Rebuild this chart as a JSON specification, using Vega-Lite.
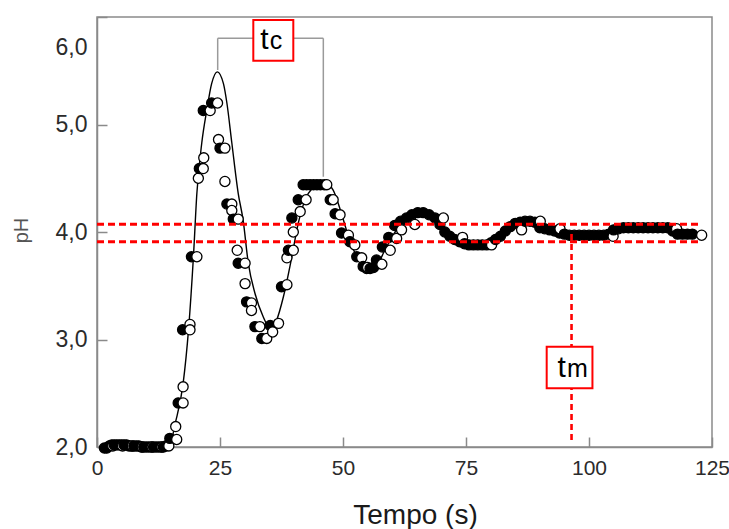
{
  "$schema": "https://vega.github.io/schema/vega-lite/v6.json",
  "width": 615,
  "height": 430,
  "autosize": "none",
  "padding": {"left": 97, "top": 17, "right": 17, "bottom": 82},
  "background": "white",
  "config": {
    "view": {"stroke": "#8a8a8a", "strokeWidth": 1.5},
    "font": "Liberation Sans"
  },
  "datasets": {
    "obs": [
      {"t":1.5,"pH":1.99,"rep":"A"},{"t":2.0,"pH":1.99,"rep":"A"},{"t":2.5,"pH":2.01,"rep":"A"},{"t":3.0,"pH":2.02,"rep":"A"},
      {"t":3.2,"pH":2.01,"rep":"B"},{"t":3.5,"pH":2.02,"rep":"A"},{"t":4.0,"pH":2.02,"rep":"A"},{"t":4.5,"pH":2.02,"rep":"A"},
      {"t":5.0,"pH":2.02,"rep":"A"},{"t":5.2,"pH":2.01,"rep":"B"},{"t":5.5,"pH":2.02,"rep":"A"},{"t":6.0,"pH":2.02,"rep":"A"},
      {"t":6.5,"pH":2.01,"rep":"A"},{"t":7.0,"pH":2.01,"rep":"A"},{"t":7.2,"pH":2.01,"rep":"B"},{"t":7.5,"pH":2.01,"rep":"A"},
      {"t":8.0,"pH":2.01,"rep":"A"},{"t":8.5,"pH":2.01,"rep":"A"},{"t":9.0,"pH":2.0,"rep":"A"},{"t":9.2,"pH":2.0,"rep":"B"},
      {"t":9.5,"pH":2.0,"rep":"A"},{"t":10.0,"pH":2.0,"rep":"A"},{"t":10.5,"pH":2.0,"rep":"A"},{"t":11.0,"pH":2.0,"rep":"A"},
      {"t":11.2,"pH":2.0,"rep":"B"},{"t":11.5,"pH":2.0,"rep":"A"},{"t":12.0,"pH":2.0,"rep":"A"},{"t":12.5,"pH":2.0,"rep":"A"},
      {"t":13.0,"pH":2.0,"rep":"A"},{"t":13.2,"pH":2.0,"rep":"B"},{"t":13.5,"pH":2.0,"rep":"A"},{"t":14.0,"pH":2.01,"rep":"A"},
      {"t":14.6,"pH":2.01,"rep":"B"},{"t":14.8,"pH":2.08,"rep":"A"},{"t":16.0,"pH":2.19,"rep":"B"},{"t":16.2,"pH":2.07,"rep":"B"},
      {"t":16.5,"pH":2.41,"rep":"A"},{"t":17.4,"pH":3.09,"rep":"A"},{"t":17.5,"pH":2.41,"rep":"B"},{"t":17.5,"pH":2.56,"rep":"B"},
      {"t":18.9,"pH":3.14,"rep":"B"},{"t":18.9,"pH":3.09,"rep":"B"},{"t":19.2,"pH":3.77,"rep":"A"},{"t":20.3,"pH":3.77,"rep":"B"},
      {"t":20.6,"pH":4.50,"rep":"B"},{"t":20.8,"pH":4.59,"rep":"A"},{"t":21.6,"pH":4.59,"rep":"B"},{"t":21.6,"pH":5.13,"rep":"A"},
      {"t":21.7,"pH":4.69,"rep":"B"},{"t":23.0,"pH":5.13,"rep":"B"},{"t":23.3,"pH":5.20,"rep":"A"},{"t":24.5,"pH":5.20,"rep":"B"},
      {"t":24.7,"pH":4.86,"rep":"B"},{"t":25.0,"pH":4.78,"rep":"A"},{"t":26.0,"pH":4.78,"rep":"B"},{"t":26.0,"pH":4.47,"rep":"B"},
      {"t":26.4,"pH":4.26,"rep":"A"},{"t":27.4,"pH":4.26,"rep":"B"},{"t":27.4,"pH":4.20,"rep":"B"},{"t":27.7,"pH":4.12,"rep":"A"},
      {"t":28.5,"pH":3.83,"rep":"B"},{"t":28.7,"pH":4.12,"rep":"B"},{"t":28.7,"pH":3.71,"rep":"A"},{"t":30.1,"pH":3.71,"rep":"B"},
      {"t":30.1,"pH":3.52,"rep":"B"},{"t":30.4,"pH":3.35,"rep":"A"},{"t":31.4,"pH":3.34,"rep":"B"},{"t":31.4,"pH":3.27,"rep":"B"},
      {"t":32.1,"pH":3.12,"rep":"A"},{"t":33.1,"pH":3.12,"rep":"B"},{"t":33.5,"pH":3.01,"rep":"A"},{"t":34.5,"pH":3.01,"rep":"B"},
      {"t":35.2,"pH":3.13,"rep":"A"},{"t":35.7,"pH":3.07,"rep":"B"},{"t":36.9,"pH":3.15,"rep":"B"},{"t":37.5,"pH":3.49,"rep":"A"},
      {"t":38.6,"pH":3.51,"rep":"B"},{"t":38.6,"pH":3.76,"rep":"B"},{"t":38.9,"pH":3.83,"rep":"A"},{"t":39.6,"pH":4.13,"rep":"A"},
      {"t":39.9,"pH":3.83,"rep":"B"},{"t":39.9,"pH":4.00,"rep":"B"},{"t":40.9,"pH":4.30,"rep":"A"},{"t":41.3,"pH":4.19,"rep":"B"},
      {"t":41.9,"pH":4.44,"rep":"A"},{"t":42.5,"pH":4.30,"rep":"B"},{"t":42.6,"pH":4.44,"rep":"A"},{"t":43.3,"pH":4.44,"rep":"A"},
      {"t":44.0,"pH":4.44,"rep":"A"},{"t":44.7,"pH":4.44,"rep":"A"},{"t":45.4,"pH":4.44,"rep":"A"},{"t":46.2,"pH":4.44,"rep":"A"},
      {"t":46.7,"pH":4.44,"rep":"B"},{"t":47.4,"pH":4.30,"rep":"A"},{"t":48.0,"pH":4.30,"rep":"B"},{"t":48.4,"pH":4.17,"rep":"A"},
      {"t":49.4,"pH":4.16,"rep":"B"},{"t":49.7,"pH":3.99,"rep":"A"},{"t":51.1,"pH":3.97,"rep":"B"},{"t":51.4,"pH":3.91,"rep":"A"},
      {"t":52.4,"pH":3.88,"rep":"B"},{"t":52.8,"pH":3.77,"rep":"A"},{"t":53.8,"pH":3.76,"rep":"B"},{"t":54.1,"pH":3.68,"rep":"A"},
      {"t":54.8,"pH":3.66,"rep":"A"},{"t":55.0,"pH":3.67,"rep":"B"},{"t":55.5,"pH":3.66,"rep":"A"},{"t":56.2,"pH":3.67,"rep":"A"},
      {"t":56.8,"pH":3.74,"rep":"A"},{"t":57.9,"pH":3.70,"rep":"B"},{"t":58.0,"pH":3.86,"rep":"A"},{"t":59.3,"pH":3.95,"rep":"A"},
      {"t":59.6,"pH":3.83,"rep":"B"},{"t":60.5,"pH":4.06,"rep":"A"},{"t":60.9,"pH":3.94,"rep":"B"},{"t":61.7,"pH":4.10,"rep":"A"},
      {"t":61.9,"pH":4.02,"rep":"B"},{"t":62.9,"pH":4.13,"rep":"A"},{"t":64.0,"pH":4.16,"rep":"A"},{"t":64.6,"pH":4.07,"rep":"B"},
      {"t":65.2,"pH":4.18,"rep":"A"},{"t":66.3,"pH":4.18,"rep":"A"},{"t":67.5,"pH":4.16,"rep":"A"},{"t":68.7,"pH":4.13,"rep":"A"},
      {"t":69.7,"pH":4.07,"rep":"A"},{"t":70.4,"pH":4.13,"rep":"B"},{"t":70.7,"pH":4.00,"rep":"A"},{"t":71.7,"pH":3.96,"rep":"A"},
      {"t":72.7,"pH":3.93,"rep":"A"},{"t":73.7,"pH":3.91,"rep":"A"},{"t":74.3,"pH":3.95,"rep":"B"},{"t":74.7,"pH":3.89,"rep":"A"},
      {"t":75.6,"pH":3.88,"rep":"A"},{"t":76.5,"pH":3.88,"rep":"A"},{"t":77.4,"pH":3.88,"rep":"A"},{"t":78.3,"pH":3.88,"rep":"A"},
      {"t":79.2,"pH":3.88,"rep":"A"},{"t":80.1,"pH":3.90,"rep":"A"},{"t":80.2,"pH":3.88,"rep":"B"},{"t":81.0,"pH":3.93,"rep":"A"},
      {"t":82.0,"pH":3.96,"rep":"A"},{"t":83.0,"pH":4.01,"rep":"A"},{"t":84.0,"pH":4.05,"rep":"A"},{"t":85.0,"pH":4.08,"rep":"A"},
      {"t":86.0,"pH":4.09,"rep":"A"},{"t":86.3,"pH":4.02,"rep":"B"},{"t":87.0,"pH":4.10,"rep":"A"},{"t":88.0,"pH":4.10,"rep":"A"},
      {"t":89.0,"pH":4.09,"rep":"A"},{"t":90.0,"pH":4.04,"rep":"A"},{"t":90.1,"pH":4.10,"rep":"B"},{"t":91.0,"pH":4.03,"rep":"A"},
      {"t":92.0,"pH":4.02,"rep":"A"},{"t":93.0,"pH":4.01,"rep":"A"},{"t":94.0,"pH":3.99,"rep":"A"},{"t":94.1,"pH":4.03,"rep":"B"},
      {"t":95.0,"pH":3.98,"rep":"A"},{"t":96.0,"pH":3.97,"rep":"A"},{"t":97.0,"pH":3.97,"rep":"A"},{"t":98.0,"pH":3.97,"rep":"A"},
      {"t":99.0,"pH":3.97,"rep":"A"},{"t":100.0,"pH":3.97,"rep":"A"},{"t":101.0,"pH":3.97,"rep":"A"},{"t":102.0,"pH":3.97,"rep":"A"},
      {"t":103.0,"pH":3.97,"rep":"A"},{"t":104.0,"pH":3.98,"rep":"A"},{"t":104.9,"pH":3.96,"rep":"B"},{"t":105.0,"pH":4.02,"rep":"A"},
      {"t":106.0,"pH":4.03,"rep":"A"},{"t":107.0,"pH":4.04,"rep":"A"},{"t":108.0,"pH":4.04,"rep":"A"},{"t":109.0,"pH":4.04,"rep":"A"},
      {"t":110.0,"pH":4.04,"rep":"A"},{"t":111.0,"pH":4.04,"rep":"A"},{"t":112.0,"pH":4.04,"rep":"A"},{"t":113.0,"pH":4.04,"rep":"A"},
      {"t":114.0,"pH":4.04,"rep":"A"},{"t":115.0,"pH":4.04,"rep":"A"},{"t":116.0,"pH":4.04,"rep":"A"},{"t":117.0,"pH":4.01,"rep":"A"},
      {"t":117.8,"pH":4.03,"rep":"B"},{"t":118.0,"pH":3.98,"rep":"A"},{"t":119.0,"pH":3.98,"rep":"A"},{"t":120.0,"pH":3.98,"rep":"A"},
      {"t":121.0,"pH":3.98,"rep":"A"},{"t":122.9,"pH":3.97,"rep":"B"}
    ],
    "fit": [
      {"t":1.0,"pH":2.0},{"t":12.8,"pH":2.0},{"t":14.8,"pH":2.02},{"t":15.9,"pH":2.22},{"t":17.5,"pH":2.59},
      {"t":18.6,"pH":3.09},{"t":19.6,"pH":3.77},{"t":20.3,"pH":4.36},{"t":21.3,"pH":4.83},{"t":22.3,"pH":5.13},
      {"t":23.3,"pH":5.38},{"t":24.45,"pH":5.49},{"t":25.7,"pH":5.38},{"t":26.4,"pH":5.20},{"t":27.4,"pH":4.83},
      {"t":28.7,"pH":4.36},{"t":29.7,"pH":4.11},{"t":30.75,"pH":3.71},{"t":32.1,"pH":3.43},{"t":33.8,"pH":3.21},
      {"t":35.2,"pH":3.10},{"t":36.5,"pH":3.18},{"t":37.9,"pH":3.40},{"t":39.6,"pH":3.77},{"t":40.9,"pH":4.08},
      {"t":42.3,"pH":4.30},{"t":44.0,"pH":4.42},{"t":46.0,"pH":4.47},{"t":48.0,"pH":4.39},{"t":49.7,"pH":4.17},
      {"t":51.1,"pH":3.96},{"t":52.8,"pH":3.77},{"t":54.1,"pH":3.68},{"t":55.5,"pH":3.65},{"t":56.9,"pH":3.69},
      {"t":58.5,"pH":3.83},{"t":60.6,"pH":4.0},{"t":62.6,"pH":4.11},{"t":64.6,"pH":4.17},{"t":66.7,"pH":4.18},
      {"t":68.7,"pH":4.14},{"t":70.7,"pH":4.04},{"t":72.8,"pH":3.94},{"t":74.8,"pH":3.89},{"t":77.4,"pH":3.87},
      {"t":79.9,"pH":3.90},{"t":81.9,"pH":3.95},{"t":83.9,"pH":4.02},{"t":86.0,"pH":4.07},{"t":88.0,"pH":4.09},
      {"t":90.0,"pH":4.07},{"t":92.1,"pH":4.03},{"t":95.1,"pH":3.99},{"t":100.2,"pH":3.98},{"t":106.3,"pH":4.0},
      {"t":114.4,"pH":4.0},{"t":122.6,"pH":3.99}
    ],
    "limits": [
      {"t":0,"t2":122.2,"pH":4.072},
      {"t":0,"t2":122.2,"pH":3.91}
    ],
    "tm": [
      {"t":96.45,"pH":2.065,"pH2":4.0}
    ],
    "bracket": [
      {"t":24.53,"t2":24.53,"pH":5.507,"pH2":5.802},
      {"t":24.53,"t2":46.0,"pH":5.802,"pH2":5.802},
      {"t":46.0,"t2":46.0,"pH":5.802,"pH2":4.514}
    ],
    "labels": [
      {"t":31.77,"t2":39.9,"pH":5.593,"pH2":5.972,"tx":34.9,"ty":5.70,"main":"t","sub":"c"},
      {"t":91.4,"t2":100.7,"pH":2.546,"pH2":2.933,"tx":95.3,"ty":2.654,"main":"t","sub":"m"}
    ]
  },
  "layer": [
    {
      "data": {"name": "fit"},
      "mark": {"type": "line", "color": "black", "strokeWidth": 1.4, "interpolate": "monotone"},
      "encoding": {
        "x": {
          "field": "t", "type": "quantitative", "title": "Tempo (s)",
          "scale": {"domain": [0, 125], "nice": false, "zero": false},
          "axis": {
            "title": "Tempo (s)", "values": [0, 25, 50, 75, 100, 125], "grid": false,
            "tickSize": -10, "tickColor": "#8a8a8a", "tickWidth": 1.5,
            "domainColor": "#8a8a8a", "domainWidth": 1.5,
            "labelFontSize": 21, "labelColor": "#2b2b2b", "labelPadding": 20, "labelFlush": false,
            "labelFont": "Liberation Sans",
            "titleFont": "Liberation Sans", "titleFontSize": 28, "titleFontWeight": "normal", "titleColor": "#1a1a1a",
            "titleX": 318, "titleY": 68, "titleBaseline": "middle", "titleAlign": "center"
          }
        },
        "y": {
          "field": "pH", "type": "quantitative", "title": "pH",
          "scale": {"domain": [2, 6], "nice": false, "zero": false},
          "axis": {
            "title": "pH", "values": [2, 3, 4, 5, 6], "grid": false,
            "labelExpr": "replace(format(datum.value, '.1f'), '.', ',')",
            "labelOffset": {"condition": {"test": "datum.value == 6", "value": 30}, "value": 0},
            "tickSize": -10, "tickColor": "#8a8a8a", "tickWidth": 1.5,
            "domainColor": "#8a8a8a", "domainWidth": 1.5,
            "labelFontSize": 23, "labelColor": "#2b2b2b", "labelPadding": 20, "labelFlush": false,
            "labelFont": "Liberation Sans",
            "titleFont": "Liberation Sans", "titleFontSize": 20, "titleFontWeight": "normal", "titleColor": "#555555",
            "titleX": -76, "titleY": 213, "titleAngle": 270, "titleAlign": "center", "titleBaseline": "middle"
          }
        }
      }
    },
    {
      "data": {"name": "obs"},
      "mark": {"type": "point", "shape": "circle", "filled": true, "size": 102, "stroke": "black", "strokeWidth": 1.3, "opacity": 1},
      "encoding": {
        "x": {"field": "t", "type": "quantitative", "title": "Tempo (s)"},
        "y": {"field": "pH", "type": "quantitative", "title": "pH"},
        "fill": {"field": "rep", "type": "nominal", "scale": {"domain": ["A", "B"], "range": ["black", "white"]}, "legend": null}
      }
    },
    {
      "data": {"name": "bracket"},
      "mark": {"type": "rule", "color": "#9a9a9a", "strokeWidth": 1.5},
      "encoding": {
        "x": {"field": "t", "type": "quantitative", "title": "Tempo (s)"},
        "x2": {"field": "t2"},
        "y": {"field": "pH", "type": "quantitative", "title": "pH"},
        "y2": {"field": "pH2"}
      }
    },
    {
      "data": {"name": "limits"},
      "mark": {"type": "rule", "color": "#ff0000", "strokeWidth": 3, "strokeDash": [7, 4]},
      "encoding": {
        "x": {"field": "t", "type": "quantitative", "title": "Tempo (s)"},
        "x2": {"field": "t2"},
        "y": {"field": "pH", "type": "quantitative", "title": "pH"}
      }
    },
    {
      "data": {"name": "tm"},
      "mark": {"type": "rule", "color": "#ff0000", "strokeWidth": 2.6, "strokeDash": [6, 4]},
      "encoding": {
        "x": {"field": "t", "type": "quantitative", "title": "Tempo (s)"},
        "y": {"field": "pH", "type": "quantitative", "title": "pH"},
        "y2": {"field": "pH2"}
      }
    },
    {
      "data": {"name": "labels"},
      "mark": {"type": "rect", "fill": "white", "stroke": "#ff0000", "strokeWidth": 2},
      "encoding": {
        "x": {"field": "t", "type": "quantitative", "title": "Tempo (s)"},
        "x2": {"field": "t2"},
        "y": {"field": "pH", "type": "quantitative", "title": "pH"},
        "y2": {"field": "pH2"}
      }
    },
    {
      "data": {"name": "labels"},
      "mark": {"type": "text", "align": "right", "baseline": "alphabetic", "fontSize": 30, "font": "Liberation Sans", "color": "black"},
      "encoding": {
        "x": {"field": "tx", "type": "quantitative", "title": "Tempo (s)"},
        "y": {"field": "ty", "type": "quantitative", "title": "pH"},
        "text": {"field": "main"}
      }
    },
    {
      "data": {"name": "labels"},
      "mark": {"type": "text", "align": "left", "baseline": "alphabetic", "fontSize": 25, "font": "Liberation Sans", "color": "black", "dx": 1},
      "encoding": {
        "x": {"field": "tx", "type": "quantitative", "title": "Tempo (s)"},
        "y": {"field": "ty", "type": "quantitative", "title": "pH"},
        "text": {"field": "sub"}
      }
    }
  ]
}
